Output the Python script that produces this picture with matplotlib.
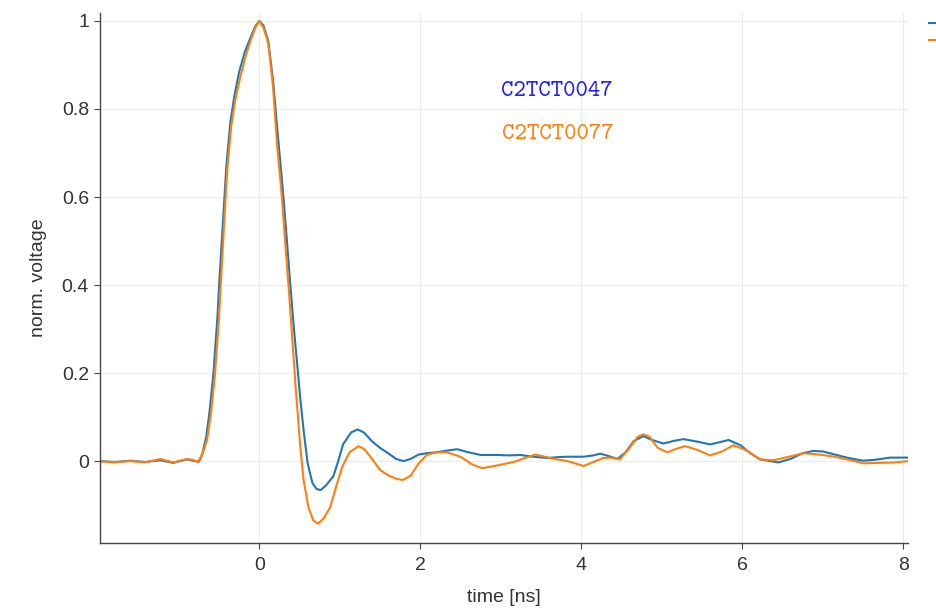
import matplotlib
matplotlib.use('Agg')
import matplotlib.pyplot as plt
from matplotlib.ticker import FuncFormatter

# normalised pulses
labels = ['C2TCT0047', 'C2TCT0077']
colors = ['#1f77b4', '#ff7f0e']
textColors = ['#1f1fff', '#ff7f0e']

t47 = [-1.98, -1.8, -1.6, -1.42, -1.23, -1.07, -0.9, -0.8, -0.75, -0.71, -0.66,
       -0.62, -0.57, -0.52, -0.5, -0.46, -0.41, -0.36, -0.31, -0.25, -0.18, -0.11,
       -0.05, 0.0, 0.05, 0.11, 0.17, 0.23, 0.29, 0.33, 0.385, 0.43, 0.47, 0.51, 0.55,
       0.6, 0.66, 0.71, 0.76, 0.83, 0.92, 0.98, 1.04, 1.14, 1.22, 1.3, 1.4, 1.5,
       1.6, 1.7, 1.79, 1.88, 1.98, 2.08, 2.2, 2.37, 2.46, 2.6, 2.75, 2.95, 3.1,
       3.24, 3.4, 3.58, 3.7, 3.83, 4.03, 4.15, 4.24, 4.33, 4.45, 4.55, 4.65, 4.77,
       4.88, 5.02, 5.15, 5.27, 5.45, 5.6, 5.72, 5.83, 5.98, 6.1, 6.22, 6.45, 6.6,
       6.75, 6.88, 7.0, 7.13, 7.3, 7.5, 7.65, 7.84, 8.06]
v47 = [0.0, -0.002, 0.001, -0.002, 0.002, -0.004, 0.004, 0.0, -0.001, 0.015, 0.055,
       0.11, 0.2, 0.33, 0.40, 0.52, 0.67, 0.77, 0.83, 0.885, 0.93, 0.962,
       0.988, 1.0, 0.99, 0.955, 0.865, 0.74, 0.62, 0.53, 0.40, 0.30, 0.22, 0.14, 0.07,
       -0.005, -0.05, -0.063, -0.066, -0.055, -0.034, 0.0, 0.038, 0.065, 0.072, 0.065, 0.045, 0.03,
       0.018, 0.005, 0.0, 0.005, 0.015, 0.018, 0.02, 0.025, 0.027, 0.02, 0.014, 0.014, 0.013,
       0.014, 0.01, 0.007, 0.009, 0.01, 0.01, 0.013, 0.017, 0.012, 0.005, 0.02, 0.045, 0.057,
       0.048, 0.04, 0.046, 0.05, 0.044, 0.038, 0.043, 0.048, 0.036, 0.018, 0.004, -0.003, 0.005,
       0.018, 0.023, 0.022, 0.016, 0.008, 0.001, 0.003, 0.008, 0.008]

t77 = [-1.98, -1.81, -1.6, -1.42, -1.23, -1.07, -0.9, -0.83, -0.76, -0.7, -0.65,
       -0.6, -0.55, -0.5, -0.48, -0.45, -0.4, -0.35, -0.3, -0.24, -0.17, -0.11,
       -0.05, 0.0, 0.05, 0.11, 0.17, 0.22, 0.28, 0.32, 0.37, 0.42, 0.45, 0.48, 0.51,
       0.55, 0.61, 0.67, 0.73, 0.8, 0.88, 0.95, 1.03, 1.12, 1.23, 1.3, 1.38, 1.5,
       1.6, 1.7, 1.78, 1.88, 1.98, 2.08, 2.2, 2.33, 2.5, 2.65, 2.77, 2.95, 3.16,
       3.3, 3.43, 3.55, 3.66, 3.83, 4.03, 4.15, 4.27, 4.36, 4.48, 4.6, 4.7, 4.77,
       4.85, 4.95, 5.07, 5.18, 5.29, 5.45, 5.6, 5.75, 5.89, 6.05, 6.22, 6.39, 6.58,
       6.76, 6.95, 7.15, 7.35, 7.5, 7.7, 7.9, 8.06]
v77 = [0.0, -0.003, 0.0, -0.003, 0.005, -0.003, 0.005, 0.003, -0.002, 0.02, 0.048,
       0.11, 0.2, 0.33, 0.40, 0.50, 0.66, 0.76, 0.82, 0.87, 0.92, 0.955,
       0.985, 1.0, 0.985, 0.95, 0.85, 0.72, 0.60, 0.50, 0.38, 0.25, 0.17, 0.10, 0.03,
       -0.043, -0.105, -0.135, -0.142, -0.13, -0.105, -0.06, -0.013, 0.02, 0.034, 0.028, 0.01, -0.02,
       -0.032, -0.04, -0.043, -0.033, -0.005, 0.014, 0.02, 0.02, 0.01, -0.008, -0.016, -0.01, -0.002,
       0.007, 0.015, 0.01, 0.005, 0.0, -0.011, -0.002, 0.007, 0.008, 0.004, 0.03, 0.055, 0.061,
       0.055, 0.03, 0.02, 0.028, 0.034, 0.025, 0.013, 0.022, 0.036, 0.025, 0.004, 0.002, 0.01,
       0.018, 0.015, 0.01, 0.002, -0.005, -0.004, -0.003, 0.0]

textPos = [(3.70, 0.83), (3.71, 0.732)]

plt.rcParams['font.family'] = ['Liberation Sans', 'DejaVu Sans']
axisColor = '#444444'

fig = plt.figure(figsize=(9.36, 6.13), dpi=100)
ax = fig.add_axes([100/936, 70/613, 808/936, 530/613])

lines = []
for t, v, lab, c in zip([t47, t77], [v47, v77], labels, colors):
    ln, = ax.plot(t, v, color=c, lw=1.5, label=lab, solid_joinstyle='round')
    lines.append(ln)

for (x, y), lab, c in zip(textPos, labels, textColors):
    ax.text(x, y, lab, color=c, fontsize=17, family=['cmtt10', 'Liberation Mono'],
            ha='center', va='baseline')

ax.set_xlim(-1.98, 8.06)
ax.set_ylim(-0.186, 1.018)
ax.set_xticks([0, 2, 4, 6, 8])
ax.set_yticks([0, 0.2, 0.4, 0.6, 0.8, 1.0])
ax.yaxis.set_major_formatter(FuncFormatter(lambda v, p: '%g' % v))
ax.grid(True, color='#ebebeb', lw=0.8)
ax.set_axisbelow(True)

for s in ['top', 'right']:
    ax.spines[s].set_visible(False)
for s in ['left', 'bottom']:
    ax.spines[s].set_color(axisColor)
    ax.spines[s].set_linewidth(1.0)

ax.tick_params(axis='both', colors=axisColor, labelsize=14, length=4, width=0.8,
               labelcolor='#333333')
ax.tick_params(axis='x', pad=6)
ax.tick_params(axis='y', pad=4)

ax.set_xlabel('time [ns]', fontsize=14, color='#333333')
ax.set_ylabel('norm. voltage', fontsize=14, color='#333333')
ax.xaxis.set_label_coords(0.5, -0.1036)
ax.xaxis.label.set_va('center')
ax.yaxis.set_label_coords(-0.0767, 0.5)
ax.yaxis.label.set_va('center')

# legend sits mostly off the right edge, as in the original
fig.legend(handles=lines, labels=labels, loc='upper left',
           bbox_to_anchor=(929/936, 1 - 17/613), frameon=False, fontsize=11,
           borderpad=0, borderaxespad=0, handlelength=2.5, labelspacing=0.25)

fig.savefig('out.png', dpi=100)
